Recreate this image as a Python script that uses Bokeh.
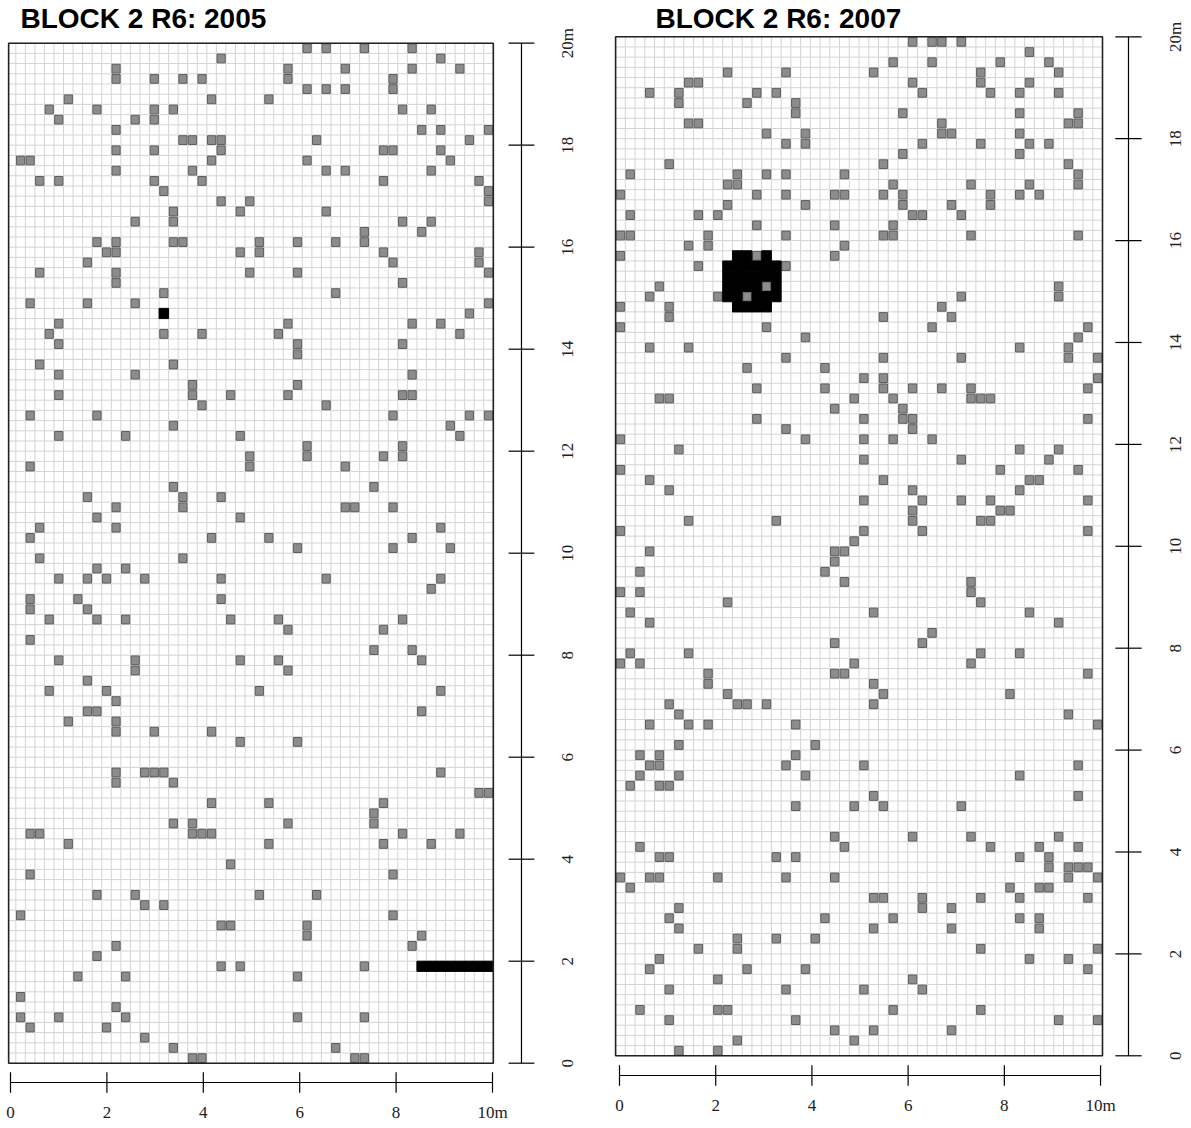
import numpy as np
from bokeh.plotting import figure
from bokeh.layouts import row
from bokeh.models import Range1d
from bokeh.core.properties import value
from bokeh.embed import file_html
from bokeh.resources import INLINE

# Plot layout: 10 m x 20 m block split into 0.2 m quadrats
CELL = 0.2
WIDTH_M = 10
LENGTH_M = 20

x_ticks = [0, 2, 4, 6, 8, 10]
x_tick_labels = ["0", "2", "4", "6", "8", "10m"]
y_ticks = [0, 2, 4, 6, 8, 10, 12, 14, 16, 18, 20]
y_tick_labels = ["0", "2", "4", "6", "8", "10", "12", "14", "16", "18", "20m"]

titles = ["BLOCK 2 R6: 2005", "BLOCK 2 R6: 2007"]

# Occupied quadrats as (column from the west edge, row from the north edge)
occupied_2005 = [
    (21, 1), (10, 2), (10, 3), (14, 3), (17, 3), (19, 3), (5, 5), (20, 5), (3, 6), (8, 6),
    (14, 6), (14, 7), (16, 6), (4, 7), (12, 7), (10, 8), (17, 9), (18, 9), (20, 9), (21, 9),
    (21, 10), (10, 10), (14, 10), (0, 11), (1, 11), (20, 11), (10, 12), (18, 12), (2, 13), (4, 13),
    (14, 13), (19, 13), (15, 14), (21, 15), (24, 15), (23, 16), (16, 16), (16, 17), (12, 17), (8, 19),
    (10, 19), (16, 19), (17, 19), (9, 20), (10, 20), (23, 20), (7, 21), (2, 22), (10, 22), (10, 23),
    (24, 22), (15, 24), (1, 25), (7, 25), (12, 25), (4, 27), (3, 28), (15, 28), (19, 28), (4, 29),
    (2, 31), (16, 31), (4, 32), (12, 32),
    (30, 0), (32, 0), (36, 0), (41, 0), (44, 1), (28, 2), (28, 3), (34, 2), (41, 2), (46, 2),
    (39, 3), (39, 4), (30, 4), (32, 4), (34, 4), (26, 5), (40, 6), (43, 6), (42, 8), (44, 8),
    (49, 8), (31, 9), (47, 9), (38, 10), (39, 10), (44, 10), (45, 11), (30, 11), (32, 12), (34, 12),
    (43, 12), (38, 13), (48, 13), (49, 14), (49, 15), (32, 16), (40, 17), (43, 17), (42, 18), (36, 18),
    (36, 19), (25, 19), (25, 20), (29, 19), (33, 19), (38, 20), (39, 21), (48, 20), (48, 21), (49, 22),
    (29, 22), (40, 23), (33, 24), (49, 25), (47, 26), (28, 27), (41, 27), (44, 27), (27, 28), (46, 28),
    (29, 29), (29, 30), (40, 29), (41, 32),
    (18, 33), (18, 34), (4, 34), (22, 34), (19, 35), (1, 36), (8, 36), (16, 37), (4, 38), (11, 38),
    (23, 38), (24, 40), (24, 41), (1, 41), (16, 43), (7, 44), (17, 44), (17, 45), (21, 44), (10, 45),
    (8, 46), (23, 46), (2, 47), (10, 47), (1, 48), (20, 48), (2, 50), (17, 50), (8, 51), (11, 51),
    (4, 52), (7, 52), (9, 52), (13, 52), (21, 52), (1, 54), (1, 55), (6, 54), (21, 54), (7, 55),
    (3, 56), (8, 56), (11, 56), (22, 56), (1, 58), (4, 60), (12, 60), (12, 61), (23, 60), (7, 62),
    (3, 63), (9, 63), (10, 64), (7, 65), (8, 65), (5, 66), (10, 66), (10, 67), (14, 67), (20, 67),
    (29, 33), (28, 34), (40, 34), (41, 34), (32, 35), (39, 36), (47, 36), (49, 36), (45, 37), (46, 38),
    (30, 39), (30, 40), (40, 39), (40, 40), (38, 40), (34, 41), (37, 43), (34, 45), (35, 45), (39, 45),
    (44, 47), (26, 48), (41, 48), (29, 49), (39, 49), (45, 49), (32, 52), (44, 52), (43, 53), (27, 56),
    (40, 56), (28, 57), (38, 57), (37, 59), (41, 59), (42, 60), (27, 60), (28, 61), (25, 63), (44, 63),
    (42, 65),
    (23, 68), (10, 71), (10, 72), (13, 71), (14, 71), (15, 71), (16, 72), (20, 74), (16, 76), (18, 76),
    (1, 77), (2, 77), (18, 77), (19, 77), (20, 77), (5, 78), (22, 80), (1, 81), (8, 83), (12, 83),
    (13, 84), (15, 84), (0, 85), (21, 86), (22, 86), (10, 88), (8, 89), (21, 90), (23, 90), (6, 91),
    (11, 91), (0, 93), (10, 94), (0, 95), (4, 95), (11, 95), (1, 96), (9, 96), (13, 97), (16, 98),
    (18, 99), (19, 99),
    (29, 68), (44, 71), (48, 73), (49, 73), (26, 74), (38, 74), (37, 75), (37, 76), (28, 76), (40, 77),
    (46, 77), (26, 78), (38, 78), (43, 78), (39, 81), (25, 83), (31, 83), (39, 85), (30, 86), (30, 87),
    (42, 87), (41, 88), (36, 90), (29, 91), (29, 95), (36, 95), (33, 98), (35, 99), (36, 99),
]

dead_2005 = [
    (15, 26),
    (42, 90), (43, 90), (44, 90), (45, 90), (46, 90), (47, 90), (48, 90), (49, 90),
]

occupied_2007 = [
    (11, 3), (17, 3), (7, 4), (8, 4), (3, 5), (6, 5), (6, 6), (14, 5), (16, 5), (13, 6),
    (18, 6), (18, 7), (7, 8), (8, 8), (15, 9), (19, 9), (19, 10), (17, 10), (5, 12), (1, 13),
    (12, 13), (12, 14), (11, 14), (15, 13), (17, 13), (23, 13), (0, 15), (14, 15), (17, 15), (22, 15),
    (23, 15), (11, 16), (19, 16), (1, 17), (8, 17), (10, 17), (14, 18), (22, 18), (0, 19), (1, 19),
    (9, 19), (9, 20), (17, 19), (7, 20), (23, 20), (0, 21), (22, 21), (8, 22), (17, 22), (4, 24),
    (3, 25), (10, 25), (0, 26), (5, 26), (5, 27), (0, 28), (15, 28), (19, 29), (3, 30), (7, 30),
    (17, 31), (13, 32), (21, 32), (14, 21), (15, 24), (13, 25),
    (30, 0), (32, 0), (33, 0), (35, 0), (42, 1), (28, 2), (32, 2), (39, 2), (44, 2), (26, 3),
    (37, 3), (37, 4), (45, 3), (30, 4), (42, 4), (31, 5), (38, 5), (41, 5), (45, 5), (29, 7),
    (41, 7), (47, 7), (47, 8), (46, 8), (33, 8), (33, 9), (34, 9), (41, 9), (31, 10), (37, 10),
    (42, 10), (44, 10), (41, 11), (29, 11), (27, 12), (46, 12), (47, 13), (28, 14), (36, 14), (47, 14),
    (42, 14), (41, 15), (43, 15), (27, 15), (29, 15), (29, 16), (38, 15), (38, 16), (34, 16), (30, 17),
    (31, 17), (35, 17), (28, 18), (27, 19), (28, 19), (36, 19), (47, 19), (45, 24), (45, 25), (35, 25),
    (33, 26), (27, 27), (34, 27), (32, 28), (48, 28), (47, 29), (41, 30), (46, 30), (46, 31), (27, 31),
    (35, 31), (49, 31),
    (14, 34), (21, 34), (4, 35), (5, 35), (24, 35), (22, 36), (14, 37), (17, 38), (0, 39), (19, 39),
    (6, 40), (0, 42), (3, 43), (5, 44), (7, 47), (16, 47), (0, 48), (24, 49), (22, 50), (23, 50),
    (22, 51), (21, 52), (23, 53), (3, 50), (2, 52), (0, 54), (2, 54), (11, 55), (1, 56), (3, 57),
    (22, 59), (1, 60), (7, 60), (0, 61), (2, 61), (24, 61), (22, 62), (23, 62), (9, 62), (9, 63),
    (11, 64), (5, 65), (12, 65), (13, 65), (15, 65), (6, 66), (3, 67), (7, 67), (9, 67), (18, 67),
    (25, 33), (27, 33), (27, 34), (30, 34), (33, 34), (36, 34), (36, 35), (37, 35), (38, 35), (49, 33),
    (48, 34), (28, 35), (29, 36), (29, 37), (30, 37), (30, 38), (25, 37), (48, 37), (25, 39), (28, 39),
    (32, 39), (41, 40), (45, 40), (44, 41), (25, 41), (35, 41), (39, 42), (47, 42), (27, 43), (42, 43),
    (43, 43), (41, 44), (30, 44), (25, 45), (31, 45), (35, 45), (38, 45), (48, 45), (30, 46), (30, 47),
    (39, 46), (40, 46), (37, 47), (38, 47), (25, 48), (31, 48), (48, 48), (36, 53), (36, 54), (37, 55),
    (26, 56), (42, 56), (45, 57), (32, 58), (31, 59), (37, 60), (36, 61), (41, 60), (48, 62), (26, 63),
    (27, 64), (26, 65), (40, 64), (46, 66), (49, 67),
    (6, 69), (20, 69), (2, 70), (4, 70), (4, 71), (18, 70), (3, 71), (17, 71), (2, 72), (6, 72),
    (19, 72), (1, 73), (4, 73), (5, 73), (18, 75), (24, 75), (22, 78), (2, 79), (23, 79), (4, 80),
    (5, 80), (16, 80), (18, 80), (0, 82), (3, 82), (4, 82), (10, 82), (17, 82), (22, 82), (1, 83),
    (6, 85), (5, 86), (21, 86), (6, 87), (12, 88), (12, 89), (16, 88), (20, 88), (8, 89), (4, 90),
    (3, 91), (13, 91), (19, 91), (10, 92), (5, 93), (17, 93), (2, 95), (10, 95), (11, 95), (5, 96),
    (18, 96), (22, 97), (12, 98), (24, 98), (6, 99), (10, 99),
    (25, 71), (47, 71), (41, 72), (26, 74), (27, 75), (47, 74), (35, 75), (30, 78), (36, 78), (45, 78),
    (38, 79), (43, 79), (47, 79), (41, 80), (44, 80), (44, 81), (46, 81), (47, 81), (48, 81), (46, 82),
    (49, 82), (40, 83), (41, 84), (43, 83), (44, 83), (26, 84), (27, 84), (31, 84), (31, 85), (37, 84),
    (48, 84), (34, 85), (28, 86), (41, 86), (43, 86), (43, 87), (26, 87), (34, 87), (37, 89), (49, 89),
    (42, 90), (46, 90), (48, 91), (30, 92), (31, 93), (25, 93), (28, 95), (37, 95), (45, 96), (49, 96),
    (26, 97), (34, 97),
]

dead_2007 = [
    (12, 21), (13, 21), (15, 21),
    (11, 22), (12, 22), (13, 22), (14, 22), (15, 22), (16, 22),
    (11, 23), (12, 23), (13, 23), (14, 23), (15, 23), (16, 23),
    (11, 24), (12, 24), (13, 24), (14, 24), (16, 24),
    (11, 25), (12, 25), (14, 25), (15, 25), (16, 25),
    (12, 26), (13, 26), (14, 26), (15, 26),
]

SERIF = value("Liberation Serif")
SANS = value("Liberation Sans")


def cell_centres(cells):
    cols = np.array([c for c, _ in cells], dtype=float)
    rows = np.array([r for _, r in cells], dtype=float)
    return cols * CELL + CELL / 2, LENGTH_M - rows * CELL - CELL / 2


def block_panel(title, occupied, dead, fig_w, x_range, y_range, frame_left,
                yaxis_x, ylab_x, xaxis_span, xaxis_y, xlab_y, title_x, title_y):
    p = figure(width=fig_w, height=1128, x_range=Range1d(*x_range), y_range=Range1d(*y_range),
               output_backend="svg", toolbar_location=None,
               x_axis_location=None, y_axis_location=None, min_border=0)
    p.xgrid.visible = False
    p.ygrid.visible = False
    p.outline_line_color = None
    p.background_fill_color = "white"

    # quadrat grid
    gx = np.arange(0, WIDTH_M + CELL / 2, CELL)
    gy = np.arange(0, LENGTH_M + CELL / 2, CELL)
    p.segment(x0=gx, y0=0, x1=gx, y1=LENGTH_M, line_color="#d4d4d4", line_width=1)
    p.segment(x0=frame_left, y0=gy, x1=WIDTH_M, y1=gy, line_color="#d4d4d4", line_width=1)

    # occupied quadrats
    ox, oy = cell_centres(occupied)
    p.rect(x=ox, y=oy, width=CELL * 0.86, height=CELL * 0.86,
           fill_color="#8c8c8c", line_color="#5e5e5e", line_width=1)

    # dead quadrats
    dx, dy = cell_centres(dead)
    p.rect(x=dx, y=dy, width=CELL, height=CELL,
           fill_color="black", line_color="black", line_width=1)

    # plot border
    p.quad(left=frame_left, right=WIDTH_M, bottom=0, top=LENGTH_M,
           fill_color=None, line_color="#222222", line_width=1.6)

    # length axis on the east side
    p.segment(x0=yaxis_x, y0=0, x1=yaxis_x, y1=LENGTH_M, line_color="black", line_width=1.2)
    p.segment(x0=yaxis_x - 0.27, y0=y_ticks, x1=yaxis_x + 0.27, y1=y_ticks,
              line_color="black", line_width=1.2)
    p.text(x=ylab_x, y=y_ticks, text=y_tick_labels, angle=np.pi / 2,
           text_align="center", text_baseline="middle",
           text_font=SERIF, text_font_size="17px", text_color="#222222")

    # width axis below the block
    a0, a1 = xaxis_span
    tx = [a0 + (a1 - a0) * t / WIDTH_M for t in x_ticks]
    p.segment(x0=a0, y0=xaxis_y, x1=a1, y1=xaxis_y, line_color="black", line_width=1.2)
    p.segment(x0=tx, y0=xaxis_y - 0.2, x1=tx, y1=xaxis_y + 0.2,
              line_color="black", line_width=1.2)
    p.text(x=tx, y=xlab_y, text=x_tick_labels,
           text_align="center", text_baseline="middle",
           text_font=SERIF, text_font_size="17px", text_color="#222222")

    p.text(x=[title_x], y=[title_y], text=[title], text_align="left", text_baseline="middle",
           text_font=SANS, text_font_style="bold", text_font_size="28px", text_color="black")
    return p


left = block_panel(titles[0], occupied_2005, dead_2005, 595,
                   (-0.3204, 12.140), (-1.2804, 20.837), -0.15,
                   10.59, 11.55, (-0.111, 9.983), -0.378, -0.966, 0.098, 20.48)
right = block_panel(titles[1], occupied_2007, dead_2007, 596,
                    (-0.4128, 11.828), (-1.427, 20.712), 0.0,
                    10.534, 11.50, (0.08, 9.96), -0.387, -0.976, 0.819, 20.36)

layout = row(left, right, spacing=0)
open("out.html", "w").write(file_html(layout, INLINE))
